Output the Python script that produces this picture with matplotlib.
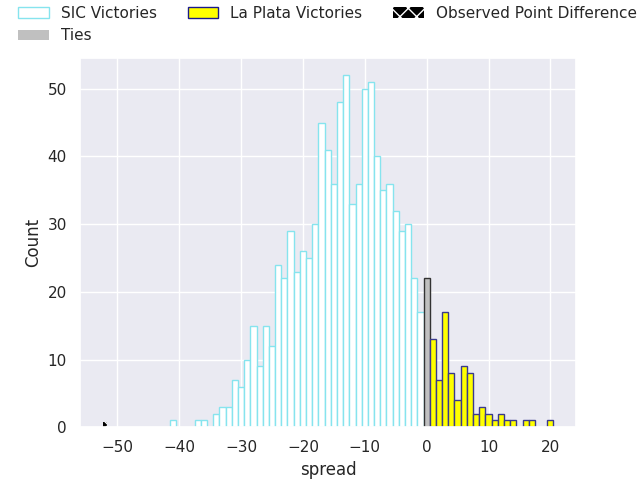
import matplotlib
matplotlib.use("Agg")
import matplotlib.pyplot as plt
import seaborn as sns
from matplotlib.patches import Patch

sns.set_theme(style="darkgrid")

# SIC victories (negative spread)
sic_spread = [-41, -37, -36, -34, -33, -32, -31, -30, -29, -28, -27, -26, -25, -24,
              -23, -22, -21, -20, -19, -18, -17, -16, -15, -14, -13, -12, -11, -10,
              -9, -8, -7, -6, -5, -4, -3, -2, -1]
sic_counts = [1, 1, 1, 2, 3, 3, 7, 6, 10, 15, 9, 15, 12, 24,
              22, 29, 23, 26, 25, 30, 45, 41, 36, 48, 52, 33, 36, 50,
              51, 40, 35, 36, 32, 29, 30, 22, 17]

# Ties
tie_spread = [0]
tie_counts = [22]

# La Plata victories (positive spread)
lp_spread = [1, 2, 3, 4, 5, 6, 7, 8, 9, 10, 11, 12, 13, 14, 16, 17, 20]
lp_counts = [13, 7, 17, 8, 4, 9, 8, 2, 3, 2, 1, 2, 1, 1, 1, 1, 1]

# Observed point difference
observed_spread = [-52]
observed_height = [0.8]

fig, ax = plt.subplots(figsize=(6.4, 4.8), dpi=100)

sic_edge = "#86E4EE"
lp_edge = "#3A3A8E"

ax.bar(sic_spread, sic_counts, width=1, facecolor="white", edgecolor=sic_edge, linewidth=1)
ax.bar(tie_spread, tie_counts, width=1, facecolor="#C0C0C0", edgecolor="#333333", linewidth=1)
ax.bar(lp_spread, lp_counts, width=1, facecolor="yellow", edgecolor=lp_edge, linewidth=1)
ax.bar(observed_spread, observed_height, width=0.8, facecolor="black", edgecolor="white",
       hatch="xx", linewidth=0)

ax.set_xlabel("spread")
ax.set_ylabel("Count")

h_sic = Patch(facecolor="white", edgecolor=sic_edge, label="SIC Victories")
h_tie = Patch(facecolor="#C0C0C0", edgecolor="none", label="Ties")
h_lp = Patch(facecolor="yellow", edgecolor="#1a1a8a", label="La Plata Victories")
h_obs = Patch(facecolor="black", edgecolor="white", hatch="xx", linewidth=0,
              label="Observed Point Difference")

fig.legend(handles=[h_sic, h_tie, h_lp, h_obs], loc="upper left", ncol=3,
           frameon=False, bbox_to_anchor=(0.007, 1.017), columnspacing=2.0)

fig.savefig("out.png", dpi=100)
